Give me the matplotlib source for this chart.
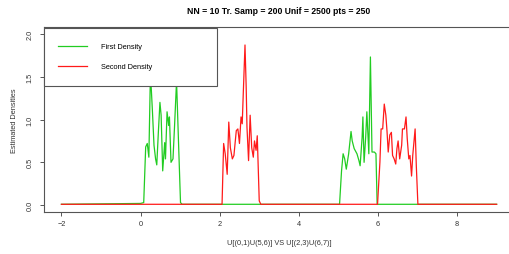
import matplotlib
matplotlib.use("Agg")
import matplotlib.pyplot as plt
from matplotlib.lines import Line2D
from matplotlib.patches import Rectangle

GREEN = "#22cc22"
RED = "#ff1a1a"
AXIS = "#555555"
TEXT = "#333333"
W, H = 510, 255

TITLE = "NN = 10 Tr. Samp = 200 Unif = 2500 pts = 250"
XLABEL = "U[(0,1)U(5,6)] VS U[(2,3)U(6,7)]"
YLABEL = "Estimated Densities"
LEGEND_LABELS = ["First Density", "Second Density"]

# first density: U(0,1) U U(5,6)
first_x = [-2.0, 0.0, 0.08, 0.13, 0.17, 0.21, 0.25, 0.30, 0.34, 0.38, 0.41, 0.45, 0.49, 0.52,
           0.56, 0.61, 0.63, 0.67, 0.71, 0.73, 0.77, 0.82, 0.86, 0.91, 0.96, 1.01, 1.05,
           5.03, 5.08, 5.12, 5.16, 5.20, 5.26, 5.32, 5.35, 5.40, 5.47, 5.52, 5.55, 5.60,
           5.62, 5.65, 5.69, 5.72, 5.77, 5.81, 5.85, 5.91, 5.95, 5.98, 9.0]
first_y = [0.01, 0.02, 0.03, 0.68, 0.72, 0.56, 1.55, 1.10, 0.70, 0.54, 0.47, 0.85, 1.20, 1.05,
           0.40, 0.73, 0.54, 1.09, 0.93, 1.03, 0.50, 0.54, 0.93, 1.45, 0.73, 0.03, 0.01,
           0.01, 0.40, 0.60, 0.54, 0.42, 0.60, 0.86, 0.75, 0.66, 0.60, 0.52, 0.46, 0.79,
           1.03, 0.50, 0.79, 1.09, 0.60, 1.73, 0.62, 0.62, 0.60, 0.01, 0.01]

# second density: U(2,3) U U(6,7)
second_x = [-2.0, 2.06, 2.10, 2.14, 2.19, 2.23, 2.27, 2.32, 2.36, 2.42, 2.46, 2.50, 2.54, 2.57,
            2.59, 2.64, 2.67, 2.69, 2.73, 2.77, 2.81, 2.85, 2.88, 2.92, 2.95, 3.00, 3.04,
            5.99, 6.05, 6.08, 6.12, 6.16, 6.20, 6.23, 6.26, 6.30, 6.34, 6.37, 6.41, 6.45,
            6.48, 6.51, 6.55, 6.60, 6.62, 6.67, 6.71, 6.74, 6.78, 6.81, 6.85, 6.88, 6.94,
            6.97, 7.01, 9.0]
second_y = [0.01, 0.01, 0.72, 0.60, 0.36, 0.97, 0.67, 0.54, 0.58, 0.87, 0.89, 0.72, 1.03, 0.95,
            1.22, 1.87, 1.38, 0.91, 0.52, 1.05, 0.67, 0.56, 0.75, 0.64, 0.81, 0.05, 0.01,
            0.01, 0.50, 0.89, 0.89, 1.18, 1.05, 0.86, 0.62, 0.82, 0.85, 0.58, 0.54, 0.48,
            0.66, 0.75, 0.54, 0.70, 0.89, 0.89, 1.03, 0.78, 0.54, 0.58, 0.34, 0.58, 0.89,
            0.46, 0.01, 0.01]


def px(x, y):
    # pixel position (from top-left) to figure fraction
    return x / W, 1 - y / H


plt.rcParams.update({"font.family": ["Liberation Sans", "DejaVu Sans"], "font.size": 5.3})

fig = plt.figure(figsize=(5.1, 2.55), dpi=100)
ax = fig.add_axes([0.0863, 0.1647, 0.9216, 0.7255])

ax.plot(first_x, first_y, color=GREEN, lw=0.9)
ax.plot(second_x, second_y, color=RED, lw=0.9)

ax.set_xlim(-2.44, 9.44)
ax.set_ylim(-0.08, 2.08)
ax.set_xticks([-2, 0, 2, 4, 6, 8])
ax.set_yticks([0.0, 0.5, 1.0, 1.5, 2.0])
ax.set_yticklabels(["0.0", "0.5", "1.0", "1.5", "2.0"], rotation=90, va="center")
ax.tick_params(length=3, width=0.7, color=AXIS, labelcolor=TEXT)
ax.tick_params(axis="x", pad=3.0)
ax.tick_params(axis="y", pad=4.5)
for s in ax.spines.values():
    s.set_color(AXIS)
    s.set_linewidth(0.8)

fig.text(0.547, 0.953, TITLE, ha="center", va="center", fontsize=6.2, fontweight="bold")
fig.text(0.547, 0.047, XLABEL, ha="center", va="center", color=TEXT)
fig.text(0.029, 0.525, YLABEL, ha="center", va="center", rotation=90, color=TEXT)

# legend box drawn by hand, R style
x0, y0 = px(44, 87)
x1, y1 = px(217, 29)
fig.add_artist(Rectangle((x0, y0), x1 - x0, y1 - y0, transform=fig.transFigure,
                         facecolor="white", edgecolor=AXIS, lw=0.8, zorder=5))
for color, label, yy in zip([GREEN, RED], LEGEND_LABELS, [47.3, 67.3]):
    (a, b), (c, _) = px(58, yy), px(87, yy)
    fig.add_artist(Line2D([a, c], [b, b], transform=fig.transFigure, color=color,
                          lw=0.9, zorder=6))
    tx, ty = px(101, yy)
    fig.text(tx, ty, label, ha="left", va="center", zorder=6)

fig.savefig("out.png", dpi=100)
